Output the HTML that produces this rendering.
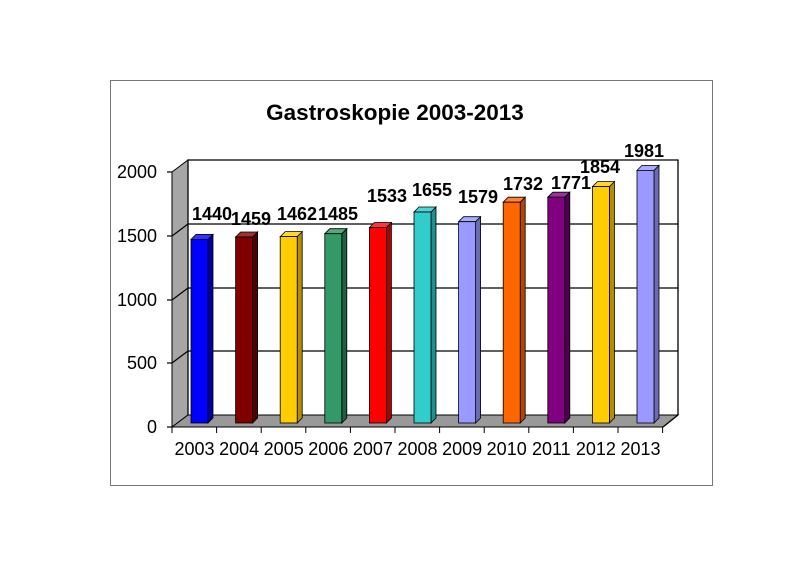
<!DOCTYPE html>
<html><head><meta charset="utf-8"><style>
html,body{margin:0;padding:0;background:#fff;}
svg{display:block;font-family:"Liberation Sans",Arial,sans-serif;}
</style></head><body>
<svg width="800" height="565" viewBox="0 0 800 565" xmlns="http://www.w3.org/2000/svg">
<rect x="110.5" y="80.5" width="602" height="405" fill="#fff" stroke="#777" stroke-width="1"/>
<text x="395" y="120" text-anchor="middle" font-size="22.5" font-weight="bold">Gastroskopie 2003-2013</text>
<polygon points="172,172 188,160 188,415 172,427" fill="#a6a6a6" stroke="#000" stroke-width="1"/>
<polygon points="172,427 188,415 678,415 663,427" fill="#999" stroke="#000" stroke-width="1"/>
<polyline points="188,415 188,160 678,160 678,415" fill="none" stroke="#000" stroke-width="1.3"/>
<g stroke="#000" stroke-width="1.2">
<line x1="188" y1="224" x2="678" y2="224"/><line x1="188" y1="288" x2="678" y2="288"/><line x1="188" y1="351" x2="678" y2="351"/>
<line x1="172" y1="236" x2="188" y2="224"/><line x1="172" y1="300" x2="188" y2="288"/><line x1="172" y1="363" x2="188" y2="351"/>
<line x1="167" y1="172" x2="172" y2="172"/><line x1="167" y1="236" x2="172" y2="236"/><line x1="167" y1="300" x2="172" y2="300"/><line x1="167" y1="363" x2="172" y2="363"/><line x1="167" y1="427" x2="172" y2="427"/>
<line x1="663" y1="427" x2="678" y2="415"/>
</g>
<g stroke="#000" stroke-width="1">
<line x1="172" y1="427" x2="172" y2="433"/><line x1="216.6" y1="427" x2="216.6" y2="433"/><line x1="261.2" y1="427" x2="261.2" y2="433"/><line x1="305.8" y1="427" x2="305.8" y2="433"/><line x1="350.4" y1="427" x2="350.4" y2="433"/><line x1="395" y1="427" x2="395" y2="433"/><line x1="439.6" y1="427" x2="439.6" y2="433"/><line x1="484.2" y1="427" x2="484.2" y2="433"/><line x1="528.8" y1="427" x2="528.8" y2="433"/><line x1="573.4" y1="427" x2="573.4" y2="433"/><line x1="618" y1="427" x2="618" y2="433"/><line x1="662.6" y1="427" x2="662.6" y2="433"/>
</g>
<g font-size="18" text-anchor="end">
<text x="157" y="178">2000</text><text x="157" y="242">1500</text><text x="157" y="306">1000</text><text x="157" y="369">500</text><text x="157" y="433">0</text>
</g>
<g stroke="#000" stroke-width="0.8">
<g transform="translate(191,0)"><polygon points="17,239.4 22,234.4 22,418 17,423" fill="#0000a0"/><polygon points="0,239.4 5,234.4 22,234.4 17,239.4" fill="#3333ff"/><rect x="0" y="239.4" width="17" height="183.6" fill="#0000ff"/></g>
<g transform="translate(235.6,0)"><polygon points="17,237 22,232 22,418 17,423" fill="#500000"/><polygon points="0,237 5,232 22,232 17,237" fill="#993333"/><rect x="0" y="237" width="17" height="186" fill="#800000"/></g>
<g transform="translate(280.2,0)"><polygon points="17,236.6 22,231.6 22,418 17,423" fill="#b38f00"/><polygon points="0,236.6 5,231.6 22,231.6 17,236.6" fill="#ffd633"/><rect x="0" y="236.6" width="17" height="186.4" fill="#ffcc00"/></g>
<g transform="translate(324.8,0)"><polygon points="17,233.7 22,228.7 22,418 17,423" fill="#206040"/><polygon points="0,233.7 5,228.7 22,228.7 17,233.7" fill="#4dad7a"/><rect x="0" y="233.7" width="17" height="189.3" fill="#339966"/></g>
<g transform="translate(369.4,0)"><polygon points="17,227.5 22,222.5 22,418 17,423" fill="#b00000"/><polygon points="0,227.5 5,222.5 22,222.5 17,227.5" fill="#ff3333"/><rect x="0" y="227.5" width="17" height="195.5" fill="#ff0000"/></g>
<g transform="translate(414,0)"><polygon points="17,212 22,207 22,418 17,423" fill="#208f8f"/><polygon points="0,212 5,207 22,207 17,212" fill="#4dd6d6"/><rect x="0" y="212" width="17" height="211" fill="#33cccc"/></g>
<g transform="translate(458.6,0)"><polygon points="17,221.7 22,216.7 22,418 17,423" fill="#6b6bb3"/><polygon points="0,221.7 5,216.7 22,216.7 17,221.7" fill="#aaaaff"/><rect x="0" y="221.7" width="17" height="201.3" fill="#9999ff"/></g>
<g transform="translate(503.2,0)"><polygon points="17,202.2 22,197.2 22,418 17,423" fill="#b34700"/><polygon points="0,202.2 5,197.2 22,197.2 17,202.2" fill="#ff8533"/><rect x="0" y="202.2" width="17" height="220.8" fill="#ff6600"/></g>
<g transform="translate(547.8,0)"><polygon points="17,197.2 22,192.2 22,418 17,423" fill="#500050"/><polygon points="0,197.2 5,192.2 22,192.2 17,197.2" fill="#993399"/><rect x="0" y="197.2" width="17" height="225.8" fill="#800080"/></g>
<g transform="translate(592.4,0)"><polygon points="17,186.6 22,181.6 22,418 17,423" fill="#b38f00"/><polygon points="0,186.6 5,181.6 22,181.6 17,186.6" fill="#ffd633"/><rect x="0" y="186.6" width="17" height="236.4" fill="#ffcc00"/></g>
<g transform="translate(637,0)"><polygon points="17,170.4 22,165.4 22,418 17,423" fill="#6b6bb3"/><polygon points="0,170.4 5,165.4 22,165.4 17,170.4" fill="#aaaaff"/><rect x="0" y="170.4" width="17" height="252.6" fill="#9999ff"/></g>
</g>
<g font-size="18" text-anchor="middle">
<text x="194.5" y="455">2003</text><text x="239.1" y="455">2004</text><text x="283.7" y="455">2005</text><text x="328.3" y="455">2006</text><text x="372.9" y="455">2007</text><text x="417.5" y="455">2008</text><text x="462.1" y="455">2009</text><text x="506.7" y="455">2010</text><text x="551.3" y="455">2011</text><text x="595.9" y="455">2012</text><text x="640.5" y="455">2013</text>
</g>
<g font-size="18" font-weight="bold" text-anchor="middle">
<text x="212" y="220">1440</text><text x="251" y="225">1459</text><text x="297" y="220">1462</text><text x="338" y="220">1485</text><text x="387" y="202">1533</text><text x="432" y="196">1655</text><text x="478" y="203">1579</text><text x="523" y="190">1732</text><text x="571" y="189">1771</text><text x="600" y="173">1854</text><text x="644" y="157">1981</text>
</g>
</svg>
</body></html>
